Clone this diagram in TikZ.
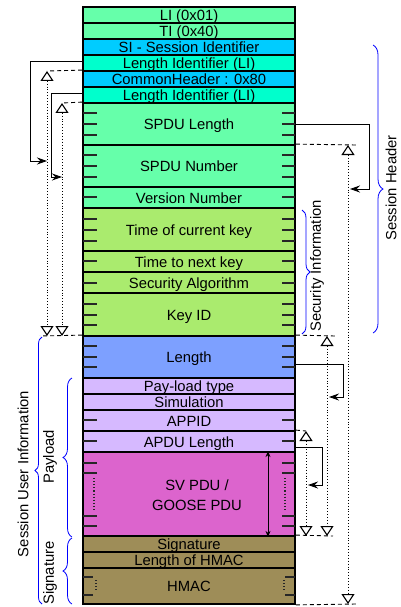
\documentclass[tikz,border=0pt]{standalone}
\usepackage{fontspec}
\setmainfont{Liberation Sans}
\usetikzlibrary{arrows.meta,decorations.pathreplacing}
\definecolor{fmint}{RGB}{102,255,170}
\definecolor{faqua}{RGB}{0,255,204}
\definecolor{fsky}{RGB}{0,204,255}
\definecolor{fgreen}{RGB}{170,235,110}
\definecolor{fblue}{RGB}{125,160,255}
\definecolor{flilac}{RGB}{214,185,255}
\definecolor{forchid}{RGB}{220,100,205}
\definecolor{folive}{RGB}{158,141,88}

\begin{document}
\begin{tikzpicture}[x=1pt,y=-1pt,
  fld/.style={draw,line width=1.8pt,minimum width=212pt,inner sep=0pt,align=center,font=\fontsize{14.8}{16}\selectfont},
  one/.style={text height=13pt,text depth=2pt},
  tick/.style={line width=1.1pt,draw=black!85},
  lead/.style={line width=0.9pt,-{Stealth[length=10pt,width=7pt]}},
  guide/.style={line width=0.9pt,dash pattern=on 4pt off 3pt},
  span/.style={line width=0.9pt,dotted,{Triangle[open,length=10pt,width=13pt,line width=1.1pt]}-{Triangle[open,length=10pt,width=13pt,line width=1.1pt]}},
  brc/.style={draw=blue,line width=0.8pt,decorate,decoration={brace,amplitude=#1}},
  lbl/.style={rotate=90,inner sep=0pt,font=\fontsize{14.8}{16}\selectfont}]
\useasboundingbox (0,0) rectangle (401,607);

\node[fld,one,fill=fmint,minimum height=16pt] (li0) at (189,15) {LI (0x01)};
\node[fld,one,fill=fmint,minimum height=16pt] (ti) at (189,31) {TI (0x40)};
\node[fld,one,fill=fsky,minimum height=16pt] (si) at (189,47) {SI - Session Identifier};
\node[fld,one,fill=faqua,minimum height=16pt] (lia) at (189,63) {Length Identifier (LI)};
\node[fld,one,fill=fsky,minimum height=16pt] (ch) at (189,79) {CommonHeader : 0x80};
\node[fld,one,fill=faqua,minimum height=16pt] (lib) at (189,95) {Length Identifier (LI)};
\node[fld,one,fill=fmint,minimum height=42pt] (spl) at (189,124) {SPDU Length};
\node[fld,one,fill=fmint,minimum height=42pt] (spn) at (189,166) {SPDU Number};
\node[fld,one,fill=fmint,minimum height=21pt] (ver) at (189,197.5) {Version Number};
\node[fld,one,fill=fgreen,minimum height=43pt] (tck) at (189,229.5) {Time of current key};
\node[fld,one,fill=fgreen,minimum height=21pt] (tnk) at (189,261.5) {Time to next key};
\node[fld,one,fill=fgreen,minimum height=21pt] (sal) at (189,282.5) {Security Algorithm};
\node[fld,one,fill=fgreen,minimum height=43pt] (kid) at (189,314.5) {Key ID};
\node[fld,one,fill=fblue,minimum height=42pt] (len) at (189,357) {Length};
\node[fld,one,fill=flilac,minimum height=16pt] (plt) at (189,386) {Pay-load type};
\node[fld,one,fill=flilac,minimum height=16pt] (sim) at (189,402) {Simulation};
\node[fld,one,fill=flilac,minimum height=21pt] (apid) at (189,420.5) {APPID};
\node[fld,one,fill=flilac,minimum height=21pt] (apl) at (189,441.5) {APDU Length};
\node[fld,fill=forchid,minimum height=84pt] (pdu) at (189,494) {};
\node[fld,one,fill=folive,minimum height=16pt] (sig) at (189,544) {Signature};
\node[fld,one,fill=folive,minimum height=16pt] (lhm) at (189,560) {Length of HMAC};
\node[fld,one,fill=folive,minimum height=36pt] (hmac) at (189,586) {HMAC};
\node[align=center,inner sep=0pt,font=\fontsize{14.8}{20}\selectfont] (pdutxt) at (197,495) {SV PDU /\\GOOSE PDU};

\foreach \y in {113,124,135,155,166,177,197,219,230,241,261,283,304,315,325,346,357,367,420,441,463,473,516,526} {
  \draw[tick] (83,\y) -- +(14,0);
  \draw[tick] (295,\y) -- +(-13,0);
}
\foreach \y in {577,595} {
  \draw[tick] (83,\y) -- +(10,0);
  \draw[tick] (295,\y) -- +(-10,0);
}
\draw[tick,dotted] (94,478) -- (94,512);
\draw[tick,dotted] (285,478) -- (285,512);
\draw[tick,dotted] (96,580) -- (96,592);
\draw[tick,dotted] (284,580) -- (284,592);
\draw[line width=0.9pt,{Stealth[length=6pt,width=5pt]}-{Stealth[length=6pt,width=5pt]}] ([xshift=79pt]pdu.north) -- ([xshift=79pt]pdu.south);

\coordinate (l1a) at (47,71);
\coordinate (l1b) at (47,336);
\coordinate (l2a) at (62,103);
\coordinate (l2b) at (62,336);
\coordinate (l0) at (40,336);
\coordinate (r1a) at (348,145);
\coordinate (r1b) at (348,604);
\coordinate (r2a) at (327,336);
\coordinate (r2b) at (327,536);
\coordinate (r3a) at (306,431);
\coordinate (r3b) at (306,536);
\coordinate (t1) at (47,161);
\coordinate (t2) at (62,177);
\coordinate (t3) at (350,189);
\coordinate (t4) at (329,397);
\coordinate (t5) at (308,485);

\draw[guide] (ch.north west) -- (l1a);
\draw[guide] (spl.north west) -- (l2a);
\draw[guide] (len.north west) -- (l0);
\draw[guide] (spn.north east) -- (356,145);
\draw[guide] (hmac.south east) -- (356,604);
\draw[guide] (len.north east) -- (335,336);
\draw[guide] (apl.north east) -- (r3a);
\draw[guide] (sig.north east) -- (333,536);

\draw[span] (l1a) -- (l1b);
\draw[span] (l2a) -- (l2b);
\draw[span] (r1a) -- (r1b);
\draw[span] (r2a) -- (r2b);
\draw[span] (r3a) -- (r3b);

\draw[lead] ([yshift=2pt]lia.west) -- ++(-52,0) |- (t1);
\draw[lead] ([yshift=2pt]lib.west) -- ++(-31,0) |- (t2);
\draw[lead] (spl.east) -- ++(74,0) |- (t3);
\draw[lead] ([yshift=-7pt]len.east) -- ++(48,0) |- (t4);
\draw[lead] ([yshift=-6pt]apl.east) -- ++(27,0) |- (t5);

\draw[brc=10pt] (373,45) -- (373,333);
\draw[brc=8pt] (302,210) -- (302,334);
\draw[brc=7pt] (42,604) -- (42,337);
\draw[brc=9pt] (72,537) -- (72,378);
\draw[brc=9pt] (72,604) -- (72,538);

\node[lbl] (shdr) at (391,188) {Session Header};
\node[lbl] (sinf) at (317,266) {Security Information};
\node[lbl] (suin) at (23,474) {Session User Information};
\node[lbl] (payl) at (50,457) {Payload};
\node[lbl] (sign) at (50,573) {Signature};
\end{tikzpicture}
\end{document}
